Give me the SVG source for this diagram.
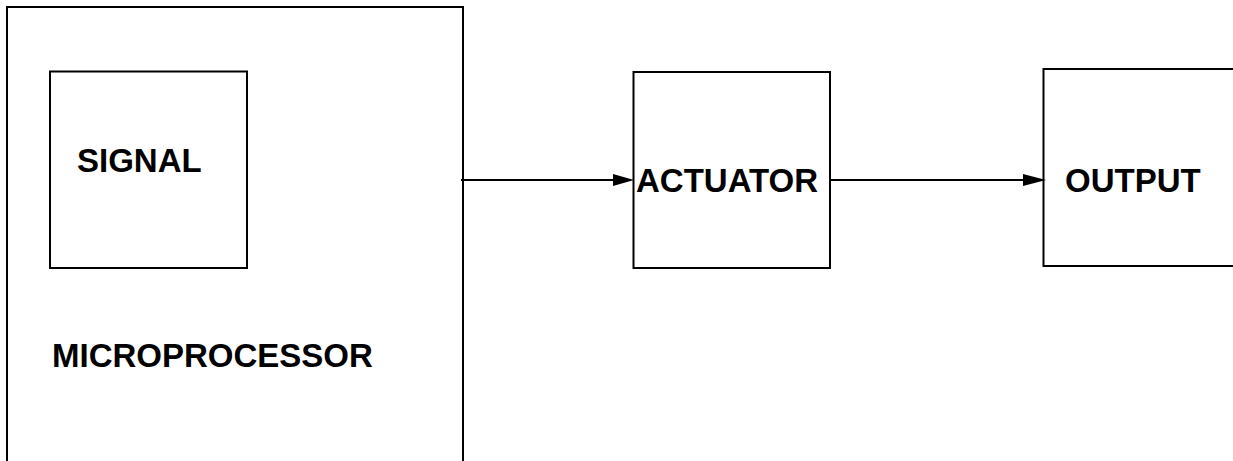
<svg xmlns="http://www.w3.org/2000/svg" width="1233" height="461" viewBox="0 0 1233 461">
<style>
.box{fill:none;stroke:#000;stroke-width:2}
.lbl{font-family:"Liberation Sans",Arial,sans-serif;font-weight:bold;font-size:33px;fill:#000}
.conn{stroke:#000;stroke-width:2;fill:none}
</style>
<rect width="1233" height="461" fill="#fff"/>
<g id="microprocessor">
<path class="box" d="M7,470 V7 H463 V470"/>
<text class="lbl" x="52" y="366.5">MICROPROCESSOR</text>
</g>
<g id="signal">
<rect class="box" x="50" y="71.5" width="197" height="196.5"/>
<text class="lbl" x="77" y="172">SIGNAL</text>
</g>
<g id="actuator">
<rect class="box" x="633.5" y="72" width="196.5" height="196"/>
<text class="lbl" x="636" y="192">ACTUATOR</text>
</g>
<g id="output">
<path class="box" d="M1240,69 H1043.5 V266 H1240"/>
<text class="lbl" x="1065" y="192">OUTPUT</text>
</g>
<g id="connectors">
<line class="conn" x1="461" y1="180" x2="616" y2="180"/>
<polygon points="613,174 634,180 613,186" fill="#000"/>
<line class="conn" x1="829" y1="180" x2="1026" y2="180"/>
<polygon points="1023,174 1046,180 1023,186" fill="#000"/>
</g>
</svg>
